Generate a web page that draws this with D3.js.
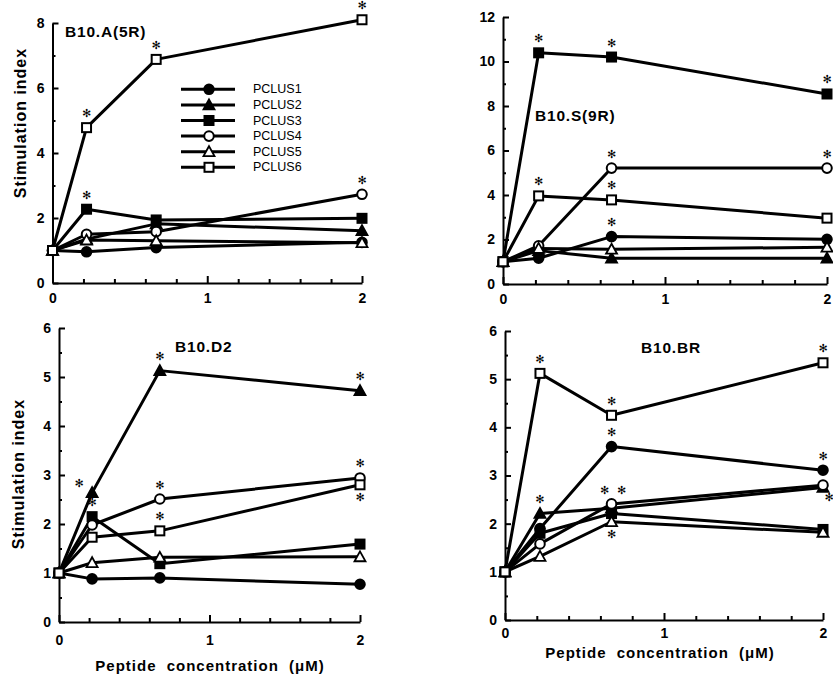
<!DOCTYPE html>
<html>
<head>
<meta charset="utf-8">
<script src="https://cdn.jsdelivr.net/npm/d3@7"></script>
<style>
  body { margin: 0; background: #fff; }
  svg { display: block; font-family: "Liberation Sans", Arial, sans-serif; }
  .axis path, .axis line { stroke: #000; stroke-width: 2; }
  .axis text { font-size: 14px; font-weight: bold; fill: #000; }
</style>
</head>
<body>
<svg id="chart" width="833" height="676"></svg>
<script>
// ---- data ----
const concentrations = [0, 0.22, 0.67, 2];
const seriesNames = ["PCLUS1", "PCLUS2", "PCLUS3", "PCLUS4", "PCLUS5", "PCLUS6"];
const xTickLabels = [0, 1, 2];

// values per strain, rows in seriesNames order
const valuesA5R = [
  [1, 0.96, 1.09, 1.25],
  [1, 1.35, 1.82, 1.61],
  [1, 2.27, 1.94, 1.99],
  [1, 1.50, 1.58, 2.73],
  [1, 1.32, 1.30, 1.24],
  [1, 4.78, 6.88, 8.10]
];
const valuesS9R = [
  [1, 1.16, 2.13, 2.01],
  [1, 1.50, 1.16, 1.16],
  [1, 10.39, 10.20, 8.54],
  [1, 1.72, 5.21, 5.21],
  [1, 1.60, 1.56, 1.65],
  [1, 3.96, 3.78, 2.96]
];
const valuesD2 = [
  [1, 0.88, 0.90, 0.77],
  [1, 2.64, 5.13, 4.72],
  [1, 2.15, 1.19, 1.59],
  [1, 1.98, 2.51, 2.94],
  [1, 1.21, 1.32, 1.33],
  [1, 1.73, 1.86, 2.80]
];
const valuesBR = [
  [1, 1.90, 3.60, 3.11],
  [1, 2.21, 2.32, 2.75],
  [1, 1.80, 2.21, 1.88],
  [1, 1.58, 2.41, 2.80],
  [1, 1.32, 2.04, 1.82],
  [1, 5.12, 4.25, 5.34]
];

// significance marks: [series index, point index, placement]
const starsA5R = [[5,1,"above"],[5,2,"above"],[5,3,"above"],[2,1,"above"],[3,3,"above"]];
const starsS9R = [[2,1,"above"],[2,2,"above"],[2,3,"above"],[3,2,"above"],[3,3,"above"],[5,1,"above"],[5,2,"above"],[0,2,"above"]];
const starsD2 = [[1,1,"upleft"],[2,1,"above"],[1,2,"above"],[3,2,"above"],[5,2,"above"],[1,3,"above"],[3,3,"above"],[5,3,"below"]];
const starsBR = [[5,1,"above"],[5,2,"above"],[5,3,"above"],[0,2,"above"],[0,3,"above"],[1,1,"above"],[3,2,"aboveL"],[3,2,"aboveR"],[4,2,"below"],[1,3,"downright"]];

// ---- layout ----
const panels = [
  { title: "B10.A(5R)", values: valuesA5R, stars: starsA5R, yMax: 8, yStep: 2, yMinor: 1,
    xr: [52.5, 362], yr: [283, 23], xPad: 10, titleXY: [65, 37], legend: true, yLabel: [20, 123] },
  { title: "B10.S(9R)", values: valuesS9R, stars: starsS9R, yMax: 12, yStep: 2, yMinor: 1,
    xr: [503, 827], yr: [284, 17], xPad: 10, titleXY: [535, 121] },
  { title: "B10.D2", values: valuesD2, stars: starsD2, yMax: 6, yStep: 1, yMinor: 0.5,
    xr: [59, 360], yr: [622, 328], xPad: 13, titleXY: [175, 352], yLabel: [18, 474], xLabel: [210, 671] },
  { title: "B10.BR", values: valuesBR, stars: starsBR, yMax: 6, yStep: 1, yMinor: 0.5,
    xr: [505, 823], yr: [620, 331], xPad: 8, titleXY: [641, 353], xLabel: [660, 658] }
];

const starOffset = {
  above: [0, -14], below: [0, 13], upleft: [-13, -9],
  aboveL: [-7, -13], aboveR: [10, -13], downright: [6, 10]
};

const svg = d3.select("#chart");

function drawMarker(g, i, x, y) {
  const filled = i < 3;
  const fill = filled ? "#000" : "#fff";
  const shape = i % 3;
  if (shape === 0) {
    g.append("circle").attr("cx", x).attr("cy", y).attr("r", 4.8)
      .attr("fill", fill).attr("stroke", "#000").attr("stroke-width", 2);
  } else if (shape === 1) {
    const s = 5.5;
    g.append("path")
      .attr("d", `M${x},${y - s}L${x + s},${y + s * 0.8}L${x - s},${y + s * 0.8}Z`)
      .attr("fill", fill).attr("stroke", "#000").attr("stroke-width", 1.8);
  } else {
    const s = 9;
    g.append("rect").attr("x", x - s / 2).attr("y", y - s / 2).attr("width", s).attr("height", s)
      .attr("fill", fill).attr("stroke", "#000").attr("stroke-width", 2);
  }
}

panels.forEach(p => {
  const x = d3.scaleLinear().domain([0, 2]).range(p.xr);
  const y = d3.scaleLinear().domain([0, p.yMax]).range(p.yr);
  const g = svg.append("g");

  // y axis
  const yMajor = d3.range(0, p.yMax + 0.001, p.yStep);
  const yMinorTicks = d3.range(0, p.yMax + 0.001, p.yMinor).filter(v => !yMajor.includes(v));
  g.append("g").attr("class", "axis").attr("transform", `translate(${p.xr[0]},0)`)
    .call(d3.axisLeft(y).tickValues(yMajor).tickFormat(d3.format("d"))
      .tickSizeInner(-6).tickSizeOuter(0).tickPadding(8));
  g.append("g").attr("class", "axis").attr("transform", `translate(${p.xr[0]},0)`)
    .call(d3.axisLeft(y).tickValues(yMinorTicks).tickFormat("").tickSizeInner(-3).tickSizeOuter(0))
    .select(".domain").remove();

  // x axis
  const xMinorTicks = d3.range(0.2, 2, 0.2).filter(v => Math.abs(v - 1) > 0.01);
  g.append("g").attr("class", "axis").attr("transform", `translate(0,${p.yr[0]})`)
    .call(d3.axisBottom(x).tickValues(xTickLabels).tickFormat(d3.format("d"))
      .tickSizeInner(-7).tickSizeOuter(0).tickPadding(p.xPad));
  g.append("g").attr("class", "axis").attr("transform", `translate(0,${p.yr[0]})`)
    .call(d3.axisBottom(x).tickValues(xMinorTicks).tickFormat("").tickSizeInner(-4).tickSizeOuter(0))
    .select(".domain").remove();

  // series
  const line = d3.line().x((d, j) => x(concentrations[j])).y(d => y(d));
  p.values.forEach((vals, i) => {
    const sg = g.append("g");
    sg.append("path").attr("d", line(vals)).attr("fill", "none")
      .attr("stroke", "#000").attr("stroke-width", 3).attr("stroke-linejoin", "round");
    vals.forEach((v, j) => drawMarker(sg, i, x(concentrations[j]), y(v)));
  });

  // significance stars
  p.stars.forEach(([si, pi, pos]) => {
    const [dx, dy] = starOffset[pos];
    g.append("text")
      .attr("x", x(concentrations[pi]) + dx)
      .attr("y", y(p.values[si][pi]) + dy)
      .attr("text-anchor", "middle").attr("dominant-baseline", "central")
      .attr("fill", "#000")
      .style("font-family", "DejaVu Sans").style("font-size", "11px")
      .text("\u273B");
  });

  // title
  g.append("text").attr("x", p.titleXY[0]).attr("y", p.titleXY[1])
    .style("font-size", "15.5px").style("font-weight", "bold").style("letter-spacing", "0.8px")
    .text(p.title);

  if (p.yLabel) {
    g.append("text")
      .attr("transform", `translate(${p.yLabel[0]},${p.yLabel[1]}) rotate(-90)`)
      .attr("text-anchor", "middle").attr("dominant-baseline", "central")
      .style("font-size", "16px").style("font-weight", "bold").style("letter-spacing", "1px")
      .text("Stimulation index");
  }
  if (p.xLabel) {
    g.append("text").attr("x", p.xLabel[0]).attr("y", p.xLabel[1])
      .attr("text-anchor", "middle")
      .style("font-size", "15px").style("font-weight", "bold")
      .style("letter-spacing", "1px").style("word-spacing", "5px")
      .text("Peptide concentration (\u03BCM)");
  }

  if (p.legend) {
    const lg = g.append("g");
    seriesNames.forEach((name, i) => {
      const ly = 89.3 + i * 15.6;
      lg.append("line").attr("x1", 181).attr("x2", 235).attr("y1", ly).attr("y2", ly)
        .attr("stroke", "#000").attr("stroke-width", 3);
      drawMarker(lg, i, 209, ly);
      lg.append("text").attr("x", 253).attr("y", ly).attr("dominant-baseline", "central")
        .style("font-size", "12.5px").text(name);
    });
  }
});
</script>
</body>
</html>
